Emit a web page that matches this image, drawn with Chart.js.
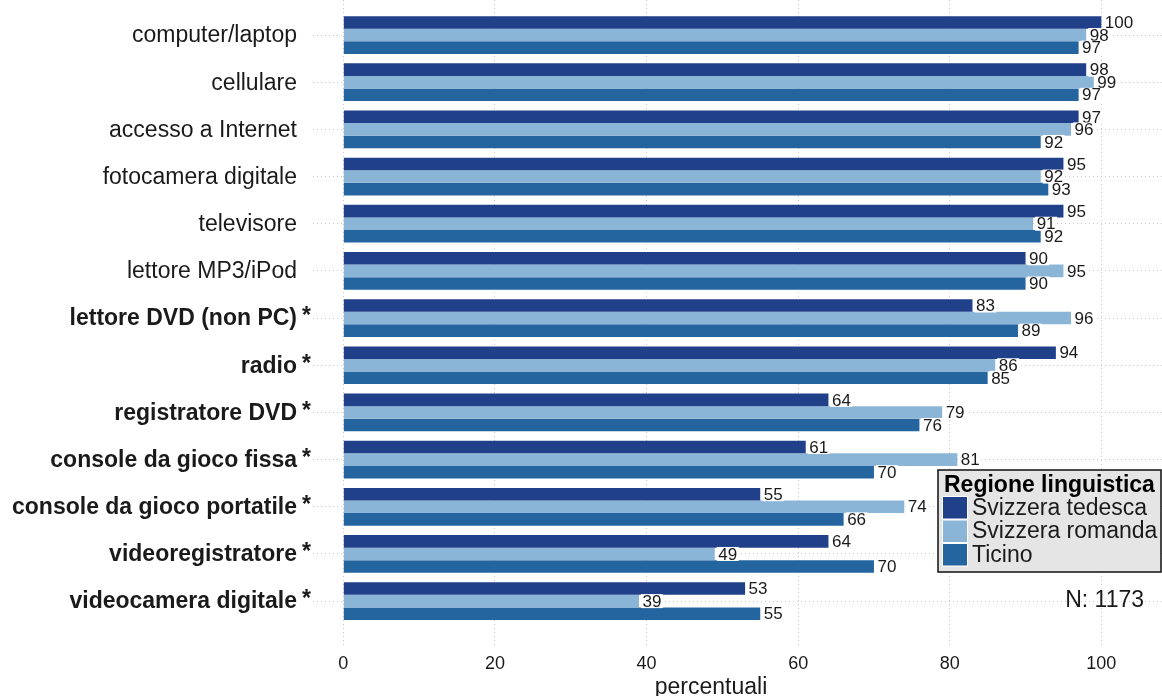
<!DOCTYPE html>
<html>
<head>
<meta charset="utf-8">
<script src="https://cdn.jsdelivr.net/npm/chart.js@4/dist/chart.umd.min.js"></script>
<style>
  body { margin: 0; background: #fff; }
</style>
</head>
<body>
<canvas id="chart" width="1162" height="696"></canvas>
<script>
// categories, top to bottom
const categories = [
  "computer/laptop", "cellulare", "accesso a Internet", "fotocamera digitale",
  "televisore", "lettore MP3/iPod", "lettore DVD (non PC)", "radio",
  "registratore DVD", "console da gioco fissa", "console da gioco portatile",
  "videoregistratore", "videocamera digitale"
]
// significant differences (bold + star)
const starred = [false, false, false, false, false, false, true, true, true, true, true, true, true]

const seriesNames = ["Svizzera tedesca", "Svizzera romanda", "Ticino"]
const tedesca = [100, 98, 97, 95, 95, 90, 83, 94, 64, 61, 55, 64, 53]
const romanda = [98, 99, 96, 92, 91, 95, 96, 86, 79, 81, 74, 49, 39]
const ticino = [97, 97, 92, 93, 92, 90, 89, 85, 76, 70, 66, 70, 55]

const xTicks = [0, 20, 40, 60, 80, 100]
const colors = ["#21408a", "#8bb5d7", "#2465a0"]
const FONT = "'Liberation Sans', Arial, sans-serif"
const TEXT = "#1a1a1a"

function toPoints(values) {
  return values.map((v, i) => ({ x: v, y: i }))
}

// value labels with white background at end of bars
const valueLabels = {
  id: "valueLabels",
  afterDatasetsDraw(chart) {
    const ctx = chart.ctx
    ctx.save()
    ctx.font = "17px " + FONT
    ctx.textBaseline = "middle"
    ctx.textAlign = "left"
    chart.data.datasets.forEach((ds, di) => {
      const meta = chart.getDatasetMeta(di)
      meta.data.forEach((bar, i) => {
        const txt = String(ds.data[i].x)
        const w = ctx.measureText(txt).width
        const x = bar.x + 2
        ctx.fillStyle = "#ffffff"
        ctx.fillRect(x, bar.y - 7, w + 3, 14)
        ctx.fillStyle = TEXT
        ctx.fillText(txt, x + 1.5, bar.y + 1)
      })
    })
    ctx.restore()
  },
}

// category labels on the left, bold with a star when significant
const catLabels = {
  id: "catLabels",
  afterDraw(chart) {
    const ctx = chart.ctx
    const yScale = chart.scales.y
    ctx.save()
    ctx.fillStyle = TEXT
    ctx.textBaseline = "middle"
    categories.forEach((c, i) => {
      const y = yScale.getPixelForValue(i) + 1
      ctx.font = (starred[i] ? "bold " : "") + "23px " + FONT
      ctx.textAlign = "right"
      ctx.fillText(c, 297, y)
      if (starred[i]) {
        ctx.textAlign = "left"
        ctx.fillText("*", 302, y - 2)
      }
    })
    // axis title
    ctx.font = "23px " + FONT
    ctx.textAlign = "center"
    ctx.textBaseline = "alphabetic"
    ctx.fillText("percentuali", 711, 694)
    ctx.restore()
  },
}

// legend box + sample size note
const legendBox = {
  id: "legendBox",
  afterDraw(chart) {
    const ctx = chart.ctx
    ctx.save()
    ctx.fillStyle = "#e5e5e5"
    ctx.fillRect(938, 470, 223, 102)
    ctx.strokeStyle = "#111"
    ctx.lineWidth = 1.5
    ctx.strokeRect(938, 470, 223, 102)
    ctx.fillStyle = "#000"
    ctx.font = "bold 23px " + FONT
    ctx.textBaseline = "alphabetic"
    ctx.textAlign = "left"
    ctx.fillText("Regione linguistica", 944, 492)
    ctx.font = "23px " + FONT
    ctx.textBaseline = "middle"
    chart.data.datasets.forEach((ds, i) => {
      const top = 496 + i * 23.5
      ctx.fillStyle = "#ffffff"
      ctx.fillRect(942, top, 26, 23.5)
      ctx.fillStyle = ds.backgroundColor
      ctx.fillRect(943, top + 1, 24, 21.5)
      ctx.fillStyle = TEXT
      ctx.fillText(ds.label, 972, top + 12.5)
    })
    ctx.textAlign = "right"
    ctx.fillText("N: 1173", 1144, 601)
    ctx.restore()
  },
}

const canvasRef = document.getElementById("chart")
const myChart = new Chart(canvasRef, {
  type: "bar",
  data: {
    datasets: [
      { label: seriesNames[0], data: toPoints(tedesca), backgroundColor: colors[0] },
      { label: seriesNames[1], data: toPoints(romanda), backgroundColor: colors[1] },
      { label: seriesNames[2], data: toPoints(ticino), backgroundColor: colors[2] },
    ],
  },
  options: {
    indexAxis: "y",
    responsive: false,
    animation: false,
    categoryPercentage: 0.8,
    barPercentage: 1,
    layout: { padding: { left: 313, right: 0, top: 0, bottom: 14 } },
    plugins: {
      legend: { display: false },
      tooltip: { enabled: false },
    },
    scales: {
      x: {
        type: "linear",
        min: -4,
        max: 108,
        offset: false,
        afterBuildTicks: (scale) => {
          scale.ticks = xTicks.map((v) => ({ value: v }))
        },
        grid: { color: "#c9c9c9", lineWidth: 1, drawTicks: false, offset: false },
        border: { display: false, dash: [1, 3] },
        ticks: { color: TEXT, font: { family: FONT, size: 18 }, padding: 7 },
      },
      y: {
        type: "linear",
        reverse: true,
        min: -0.743,
        max: 12.96,
        offset: false,
        afterBuildTicks: (scale) => {
          scale.ticks = categories.map((c, i) => ({ value: i }))
        },
        grid: { color: "#c9c9c9", lineWidth: 1, drawTicks: false, offset: false },
        border: { display: false, dash: [1, 3] },
        ticks: { display: false },
      },
    },
  },
  plugins: [valueLabels, catLabels, legendBox],
})
</script>
</body>
</html>
